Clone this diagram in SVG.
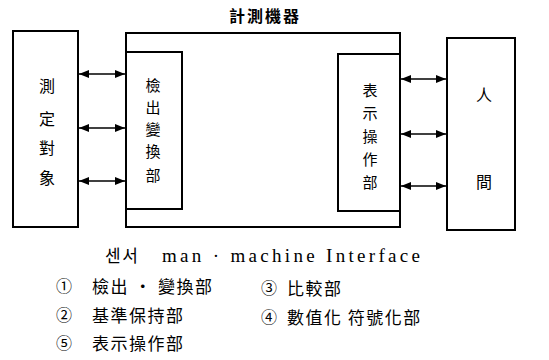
<svg xmlns="http://www.w3.org/2000/svg" width="549" height="360" viewBox="0 0 549 360">
<style>
.box{fill:none;stroke:#000;stroke-width:2}
.t{font-family:"Noto Sans CJK TC","Noto Sans CJK KR",sans-serif;font-size:16px;fill:#000;text-anchor:middle}
.i{font-size:15px}
.c{stroke:#000;stroke-width:1.6;fill:none;marker-start:url(#a);marker-end:url(#a)}
.l{font-family:"Noto Sans CJK TC","Noto Sans CJK KR",sans-serif;font-size:17px;fill:#000;letter-spacing:1.5px}
.n{font-family:"Noto Sans CJK TC","Noto Sans CJK KR",sans-serif;font-size:16px;fill:#000}
.s{font-family:"Liberation Serif",serif;font-size:19px;fill:#000}
</style>
<defs>
<marker id="a" viewBox="0 0 10 8" refX="10" refY="4" markerWidth="10" markerHeight="8" markerUnits="userSpaceOnUse" orient="auto-start-reverse">
<path d="M0,0 L10,4 L0,8 Z" fill="#000"/>
</marker>
</defs>
<text class="t" x="265" y="22" font-size="17" font-weight="bold" letter-spacing="2">計測機器</text>
<g id="measure-object">
<rect class="box" x="13" y="31" width="65" height="196"/>
<text class="t" x="47" y="92">測</text>
<text class="t" x="47" y="125">定</text>
<text class="t" x="47" y="154">對</text>
<text class="t" x="47" y="184">象</text>
</g>
<g id="instrument">
<rect class="box" x="126" y="33" width="274" height="194"/>
</g>
<g id="detect">
<rect class="box" x="126" y="52" width="56" height="157"/>
<text class="t i" x="153" y="91">檢</text>
<text class="t i" x="153" y="113">出</text>
<text class="t i" x="153" y="135">變</text>
<text class="t i" x="153" y="157">換</text>
<text class="t i" x="153" y="181">部</text>
</g>
<g id="display">
<rect class="box" x="338" y="54" width="62" height="157"/>
<text class="t i" x="370" y="96">表</text>
<text class="t i" x="370" y="119">示</text>
<text class="t i" x="370" y="142">操</text>
<text class="t i" x="370" y="165">作</text>
<text class="t i" x="370" y="188">部</text>
</g>
<g id="human">
<rect class="box" x="447" y="38" width="68" height="192"/>
<text class="t" x="484" y="101">人</text>
<text class="t" x="484" y="188">間</text>
</g>
<g id="connectors">
<line class="c" x1="79" y1="74" x2="125" y2="74"/>
<line class="c" x1="79" y1="128" x2="125" y2="128"/>
<line class="c" x1="79" y1="181" x2="125" y2="181"/>
<line class="c" x1="401" y1="79" x2="446" y2="79"/>
<line class="c" x1="401" y1="134" x2="446" y2="134"/>
<line class="c" x1="401" y1="186" x2="446" y2="186"/>
</g>
<text class="l" x="105" y="262" font-size="16" letter-spacing="0">센서</text>
<text class="s" x="162" y="262" textLength="258" lengthAdjust="spacing">man · machine  Interface</text>
<text class="n" x="56" y="292">①</text>
<text class="l" x="92" y="293">檢出 · 變換部</text>
<text class="n" x="261" y="294">③</text>
<text class="l" x="287" y="295">比較部</text>
<text class="n" x="56" y="321">②</text>
<text class="l" x="92" y="322">基準保持部</text>
<text class="n" x="261" y="323">④</text>
<text class="l" x="287" y="324">數值化 符號化部</text>
<text class="n" x="56" y="349">⑤</text>
<text class="l" x="92" y="350">表示操作部</text>
</svg>
